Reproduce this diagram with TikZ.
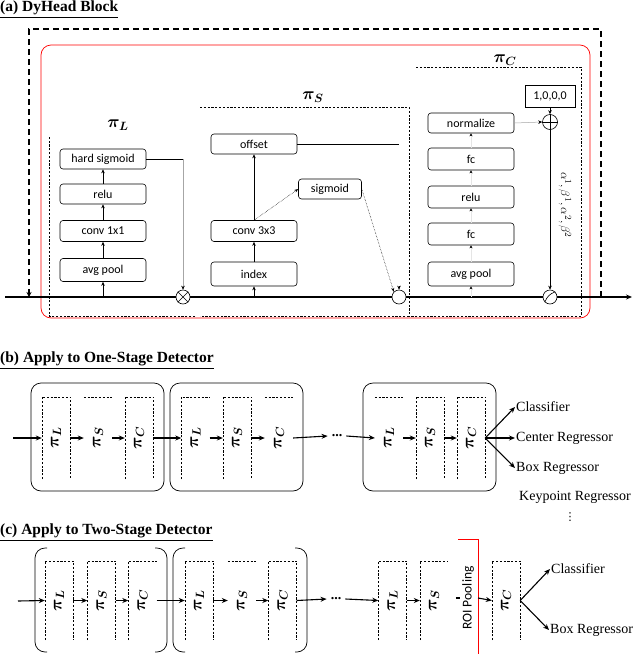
\documentclass[tikz,border=0pt]{standalone}
\usepackage{amsmath}
\usepackage{fontspec}
\setmainfont{Liberation Serif}
\newfontfamily\boxfont{Carlito}
\newfontfamily\dejavu{DejaVu Sans}
\usetikzlibrary{arrows.meta,calc}
\newcommand\pfull[1]{\draw[sdash] (#1.south west) |- (#1.north east) -- (#1.south east);}
\newcommand\ptopleft[1]{\draw[sdash] (#1.south west) |- (#1.north east);}
\newcommand\ptoponly[1]{\draw[sdash] (#1.north west) -- (#1.north east);}
\newcommand\prot[1]{\rotatebox{90}{$\boldsymbol{\pi_{#1}}$}}
\begin{document}
\begin{tikzpicture}[x=1pt,y=-1pt,
  blk/.style={draw,line width=0.6pt,rounded corners=3pt,minimum width=86pt,minimum height=21pt,inner sep=0pt,font=\boxfont\fontsize{12}{12}\selectfont},
  sarr/.style={-{Stealth[length=4pt,width=3.5pt,color=black]},line width=0.7pt},
  tarr/.style={-{Stealth[length=3pt,width=3pt,color=black]},line width=0.3pt,draw=gray!20},
  bigdash/.style={line width=1.2pt,dash pattern=on 6pt off 4pt},
  sdash/.style={line width=0.6pt,dash pattern=on 2.2pt off 1.6pt},
  opc/.style={circle,draw,line width=0.6pt,fill=white,minimum size=14pt,inner sep=0pt},
  ttl/.style={anchor=north west,inner sep=0pt,font=\bfseries\fontsize{15.5}{15.5}\selectfont},
  plab/.style={inner sep=0pt,font=\fontsize{17}{17}\selectfont},
  pbox/.style={minimum width=28pt,minimum height=82pt,inner sep=0pt,font=\fontsize{17}{17}\selectfont},
  barr/.style={-{Stealth[length=6pt,width=5pt]},line width=1.1pt},
  txt/.style={anchor=west,inner sep=1pt,font=\fontsize{14}{14}\selectfont},
]
\useasboundingbox (0,0) rectangle (636,654);

% ================= (a) =================
\node[ttl] (ta) at (0,0.5) {\underline{(a) DyHead Block}};
\draw[red,line width=0.7pt,rounded corners=10pt] (41,45) rectangle (590,318);
\coordinate (skS) at (601,297);
\coordinate (skE) at (29,297);
\draw[bigdash,-{Stealth[length=5pt,width=5pt]}] (skS) -- ++(0,-268) -| (skE);

\coordinate (min) at (5,297);
\coordinate (mout) at (632,297);
\draw[line width=1.6pt,-{Stealth[length=6pt,width=5pt]}] (min) -- (mout);

% dashed attention sub-boxes
\draw[sdash] (195,316) -| (49,136);
\draw[sdash] (200,107) -| (409,316) -- (200,316);
\draw[sdash] (416,67) -| (581,316) -- (409,316);
\node[plab] (lpL) at (118,125) {$\boldsymbol{\pi_L}$};
\node[plab] (lpS) at (313,97) {$\boldsymbol{\pi_S}$};
\node[plab] (lpC) at (505,60) {$\boldsymbol{\pi_C}$};

% operator circles
\node[opc] (mulL) at (183,297) {};
\draw[line width=0.6pt] (mulL.north west) -- (mulL.south east) (mulL.north east) -- (mulL.south west);
\node[opc] (mulS) at (399,297) {};
\node[opc] (mulC) at (550,297) {};
\draw[line width=0.6pt] (mulC.south west) to[bend left=25] (mulC.north east);
\node[opc,minimum size=15pt] (plus) at (550,122) {};
\draw[line width=0.6pt] (plus.west) -- (plus.east) (plus.north) -- (plus.south);

% pi_L column
\node[blk,minimum height=20pt] (hs) at (103,159) {hard sigmoid};
\node[blk,minimum height=20pt] (reL) at (103,194) {relu};
\node[blk] (c11) at (103,231) {conv 1x1};
\node[blk,minimum height=23pt] (apL) at (103,270) {avg pool};
\coordinate (tapL) at (103,297);
\draw[sarr] (tapL) -- (apL);
\draw[sarr] (apL) -- (c11);
\draw[sarr] (c11) -- (reL);
\draw[sarr] (reL) -- (hs);
\draw[line width=0.6pt] (hs.east) -- (hs.east -| mulL);
\draw[sarr,draw=gray!70,line width=0.5pt] (hs.east -| mulL) -- (mulL.north);

% pi_S column
\node[blk,minimum height=20pt] (off) at (254,144) {offset};
\node[blk] (c33) at (254,231) {conv 3x3};
\node[blk,minimum height=24pt] (idx) at (254,274) {index};
\node[blk,minimum width=63pt,minimum height=20pt] (sig) at (330,189) {sigmoid};
\coordinate (tapS) at (254,297);
\draw[sarr] (tapS) -- (idx);
\draw[sarr] (idx) -- (c33);
\draw[sarr] (c33) -- (off);
\draw[densely dotted,line width=0.5pt,-{Stealth[length=4pt,width=3pt]}] (c33.north) -- (sig.west);
\coordinate (offE) at (399,144);
\draw[line width=0.6pt] (off.east) -- (offE);
\draw[densely dotted,line width=0.5pt,-{Stealth[length=4pt,width=3pt]}] (sig.east) -- (mulS.north west);
\coordinate (mSt) at (399,286);
\draw[sarr] (mSt) -- (mulS.north);

% pi_C column
\node[blk,minimum height=20pt] (nrm) at (471,123) {normalize};
\node[blk,minimum height=22pt] (fc2) at (471,159) {fc};
\node[blk,minimum height=22pt] (reC) at (471,197) {relu};
\node[blk,minimum height=22pt] (fc1) at (471,234) {fc};
\node[blk,minimum height=24pt] (apC) at (471,274) {avg pool};
\coordinate (tapC) at (471,297);
\draw[tarr] (tapC) -- (apC);
\draw[tarr] (apC) -- (fc1);
\draw[tarr] (fc1) -- (reC);
\draw[tarr] (reC) -- (fc2);
\draw[tarr] (fc2) -- (nrm);
\node[draw,line width=0.6pt,minimum width=50pt,minimum height=22pt,inner sep=0pt,font=\boxfont\fontsize{12}{12}\selectfont] (one) at (550,96) {1,0,0,0};
\draw[sarr,draw=gray!70,line width=0.5pt] (nrm.east) -- (plus.west);
\draw[sarr] (one.south) -- (plus.north);
\draw[sarr] (plus.south) -- (mulC.north);
\node[rotate=-90,inner sep=0pt,font=\fontsize{13}{13}\selectfont] (ab) at (565,205) {$\alpha^1,\beta^1,\alpha^2,\beta^2$};

% ================= (b) =================
\node[ttl] (tb) at (0,352) {\underline{(b) Apply to One-Stage Detector}};
\draw[rounded corners=10pt,line width=0.7pt] (31,383) rectangle (164,491);
\draw[rounded corners=10pt,line width=0.7pt] (170,383) rectangle (303,491);
\draw[rounded corners=10pt,line width=0.7pt] (363,383) rectangle (496,491);

\node[pbox] (b1L) at (56,438) {\prot{L}};
\node[pbox] (b1S) at (98,438) {\prot{S}};
\node[pbox] (b1C) at (139,438) {\prot{C}};
\node[pbox] (b2L) at (195.5,438) {\prot{L}};
\node[pbox] (b2S) at (237,438) {\prot{S}};
\node[pbox] (b2C) at (279,438) {\prot{C}};
\node[pbox] (b3L) at (389,438) {\prot{L}};
\node[pbox] (b3S) at (430,438) {\prot{S}};
\node[pbox] (b3C) at (471,438) {\prot{C}};
\pfull{b1L} \ptoponly{b1S} \pfull{b1C}
\ptopleft{b2L} \pfull{b2S} \ptoponly{b2C}
\ptoponly{b3L} \pfull{b3S} \pfull{b3C}

\coordinate (bin) at (13,438);
\node[inner sep=0pt,font=\bfseries\fontsize{14}{14}\selectfont] (bdots) at (337,436) {...};
\draw[barr] (bin) -- (b1L.west);
\draw[barr] (b1L.east) -- (b1S.west);
\draw[barr] (b1S.east) -- (b1C.west);
\draw[barr] (b1C.east) -- (b2L.west);
\draw[barr] (b2L.east) -- (b2S.west);
\draw[barr] (b2S.east) -- (b2C.west);
\draw[barr] (b2C.east) -- ([xshift=-4pt]bdots.west);
\draw[barr] ([xshift=4pt]bdots.east) -- (b3L.west);
\draw[barr] (b3L.east) -- (b3S.west);
\draw[barr] (b3S.east) -- (b3C.west);

\node[txt] (clsB) at (515,407) {Classifier};
\node[txt] (cenB) at (515,438) {Center Regressor};
\node[txt] (boxB) at (515,468) {Box Regressor};
\node[txt] (kpB) at (518,497) {Keypoint Regressor};
\node[inner sep=0pt,font=\dejavu\fontsize{11}{11}\selectfont] (vdB) at (570,517) {⋮};
\draw[barr] (b3C.east) -- (clsB.west);
\draw[barr] (b3C.east) -- (cenB.west);
\draw[barr] (b3C.east) -- (boxB.west);

% ================= (c) =================
\node[ttl] (tc) at (0,524) {\underline{(c) Apply to Two-Stage Detector}};
\draw[rounded corners=10pt,line width=0.7pt] (47,548) -- (35,548) -- (35,652) -- (47,652);
\draw[rounded corners=10pt,line width=0.7pt] (155,548) -- (167,548) -- (167,652) -- (155,652);
\draw[rounded corners=10pt,line width=0.7pt] (185,548) -- (173,548) -- (173,652) -- (185,652);
\draw[rounded corners=10pt,line width=0.7pt] (295,548) -- (307,548) -- (307,652) -- (295,652);

\node[pbox,minimum height=79pt] (c1L) at (59,600.5) {\prot{L}};
\node[pbox,minimum height=79pt] (c1S) at (101.5,600.5) {\prot{S}};
\node[pbox,minimum height=79pt] (c1C) at (142.5,600.5) {\prot{C}};
\node[pbox,minimum height=79pt] (c2L) at (199,600.5) {\prot{L}};
\node[pbox,minimum height=79pt] (c2S) at (242,600.5) {\prot{S}};
\node[pbox,minimum height=79pt] (c2C) at (282.5,600.5) {\prot{C}};
\node[pbox,minimum height=79pt] (c3L) at (392.5,600.5) {\prot{L}};
\node[pbox,minimum height=79pt] (c3S) at (434,600.5) {\prot{S}};
\node[pbox,minimum height=79pt] (c3C) at (506,600.5) {\prot{C}};
\pfull{c1L} \pfull{c1S} \ptopleft{c1C}
\pfull{c2L} \ptoponly{c2S} \pfull{c2C}
\pfull{c3L} \ptopleft{c3S} \pfull{c3C}

\node[inner sep=0pt,font=\boxfont\fontsize{13.5}{13.5}\selectfont] (roi) at (468,598) {\rotatebox{90}{ROI Pooling}};
\draw[red,line width=0.9pt] (458,539) -- (478,539) -- (478,654);

\coordinate (cin) at (18,601);
\node[inner sep=0pt,font=\bfseries\fontsize{14}{14}\selectfont] (cdots) at (336,599) {...};
\draw[barr] (cin) -- (c1L.west);
\draw[barr] (c1L.east) -- (c1S.west);
\draw[barr] (c1S.east) -- (c1C.west);
\draw[barr] (c1C.east) -- (c2L.west);
\draw[barr] (c2L.east) -- (c2S.west);
\draw[barr] (c2S.east) -- (c2C.west);
\draw[barr] (c2C.east) -- ([xshift=-4pt]cdots.west);
\draw[barr] ([xshift=4pt]cdots.east) -- (c3L.west);
\draw[barr] (c3L.east) -- (c3S.west);
\draw[line width=1.1pt] ([xshift=-6pt]roi.west) -- ([xshift=-2pt]roi.west);
\draw[barr] ([xshift=4pt]roi.east) -- (c3C.west);

\node[txt] (clsC) at (550,569) {Classifier};
\node[txt] (boxC) at (549,630) {Box Regressor};
\draw[barr] (c3C.east) -- (clsC.west);
\draw[barr] (c3C.east) -- (boxC.west);
\end{tikzpicture}
\end{document}
